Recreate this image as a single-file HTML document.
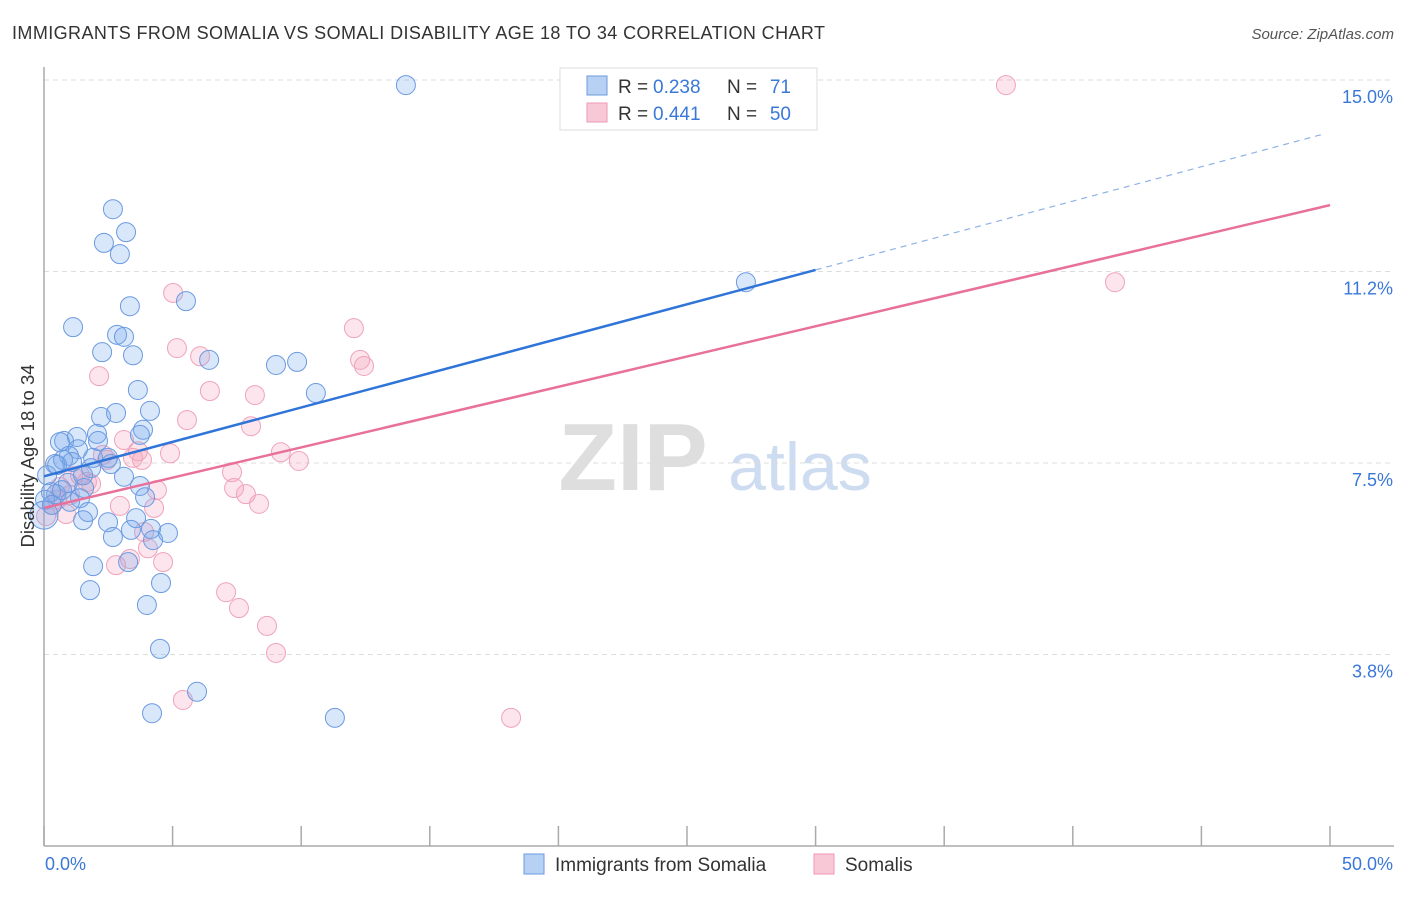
<!DOCTYPE html>
<html><head><meta charset="utf-8"><style>
body{margin:0;background:#fff;font-family:"Liberation Sans",sans-serif;}
svg text{font-family:"Liberation Sans",sans-serif;}
</style></head><body>
<svg id="chart" width="1406" height="892" xmlns="http://www.w3.org/2000/svg">
<text x="12" y="39" font-size="18" fill="#333" textLength="813" lengthAdjust="spacing">IMMIGRANTS FROM SOMALIA VS SOMALI DISABILITY AGE 18 TO 34 CORRELATION CHART</text>
<text x="1394" y="39" font-size="15" fill="#555" text-anchor="end" font-style="italic">Source: ZipAtlas.com</text>
<g>
<text x="633" y="490" font-size="96" fill="#dedede" text-anchor="middle" font-family="Liberation Serif" font-weight="bold">ZIP</text>
<text x="800" y="490" font-size="68" fill="#cddcf0" text-anchor="middle">atlas</text>
</g>
<g id="grid"></g>
<g id="axes"></g>
<g id="points"></g>
<g id="trends"></g>
<text transform="translate(34,456) rotate(-90)" font-size="18.5" fill="#333" text-anchor="middle">Disability Age 18 to 34</text>
<g>
<rect x="560" y="68" width="257" height="62" fill="#fff" stroke="#ddd"/>
<rect x="587" y="76" width="20" height="19" fill="#b7d1f5" stroke="#6b9ae0"/>
<rect x="587" y="103" width="20" height="19" fill="#f9c8d6" stroke="#ee9ab4"/>
<text x="618" y="93" font-size="19" fill="#333">R =</text>
<text x="653" y="93" font-size="19" fill="#3a78d8">0.238</text>
<text x="727" y="93" font-size="19" fill="#333">N =</text>
<text x="791" y="93" font-size="19" fill="#3a78d8" text-anchor="end">71</text>
<text x="618" y="120" font-size="19" fill="#333">R =</text>
<text x="653" y="120" font-size="19" fill="#3a78d8">0.441</text>
<text x="727" y="120" font-size="19" fill="#333">N =</text>
<text x="791" y="120" font-size="19" fill="#3a78d8" text-anchor="end">50</text>
</g>
<g>
<rect x="524" y="854" width="20" height="20" fill="#b7d1f5" stroke="#6b9ae0"/>
<text x="555" y="871" font-size="19" fill="#333">Immigrants from Somalia</text>
<rect x="814" y="854" width="20" height="20" fill="#f9c8d6" stroke="#ee9ab4"/>
<text x="845" y="871" font-size="19" fill="#333">Somalis</text>
</g>
</svg>
<script>
const yTicks=[3.8,7.5,11.2,15.0];
const yTickVals=[3.75,7.5,11.25,15];
const xTickLabels=["0.0%","50.0%"];
const blueX=[14.07,2.68,3.19,2.33,2.95,27.29,3.34,5.52,1.13,2.84,3.11,2.26,3.46,6.42,9.02,9.84,10.57,3.65,2.22,2.80,4.12,3.85,3.73,0.78,1.28,2.06,2.10,0.62,1.32,0.97,0.74,1.91,1.09,2.49,2.60,1.83,0.43,3.11,0.93,3.73,3.93,1.56,0.47,0.27,1.40,0.04,1.71,1.52,2.49,3.58,4.16,4.82,4.24,2.68,3.38,1.91,3.27,1.79,4.55,4.00,4.51,5.95,4.20,11.31,0.0,0.31,0.70,0.12,0.51,1.52,1.01];
const blueY=[14.9,12.47,12.02,11.81,11.59,11.04,10.57,10.67,10.16,10.01,9.97,9.67,9.61,9.52,9.42,9.48,8.87,8.93,8.40,8.48,8.52,8.15,8.05,7.93,8.01,8.07,7.93,7.91,7.77,7.64,7.56,7.60,7.52,7.60,7.48,7.40,7.48,7.23,7.11,7.05,6.83,7.01,6.89,6.93,6.81,6.78,6.54,6.38,6.34,6.42,6.21,6.13,5.99,6.05,6.19,5.48,5.56,5.01,5.15,4.72,3.86,3.02,2.60,2.51,6.48,6.68,6.97,7.26,7.46,7.26,6.74];
const pinkX=[37.40,41.64,5.02,12.05,5.17,6.07,12.29,12.44,2.14,6.45,8.20,5.56,8.05,3.11,3.65,4.90,3.46,2.45,3.81,9.91,9.21,7.31,4.39,7.39,7.85,1.13,1.67,1.83,0.62,2.95,4.28,8.36,0.86,0.31,3.89,4.04,4.63,2.80,3.34,7.08,7.58,8.67,9.02,5.40,18.16,0.08,1.40,1.01,2.29,0.51];
const pinkY=[14.90,11.04,10.83,10.14,9.75,9.59,9.52,9.40,9.20,8.91,8.83,8.34,8.22,7.95,7.73,7.69,7.60,7.56,7.56,7.54,7.71,7.32,6.97,7.01,6.89,7.24,7.13,7.09,7.03,6.66,6.62,6.70,6.50,6.68,6.15,5.83,5.56,5.50,5.62,4.97,4.66,4.31,3.78,2.86,2.51,6.46,7.26,6.87,7.66,6.78];
const blueTrend=[7.24,0.1347];
const pinkTrend=[6.62,0.1186];
const NS="http://www.w3.org/2000/svg";
const X0=44,X1=1330,Y0=846,YTOP=80;
const xs=v=>X0+v/50*(X1-X0);
const ys=v=>Y0-v/15*(Y0-YTOP);
function mk(tag,attrs,parent){const e=document.createElementNS(NS,tag);for(const k in attrs)e.setAttribute(k,attrs[k]);parent.appendChild(e);return e;}
const grid=document.getElementById('grid'),axes=document.getElementById('axes'),pts=document.getElementById('points'),tr=document.getElementById('trends');
yTickVals.forEach((v,i)=>{
  const l=mk('line',{x1:X0,x2:1394,y1:ys(v),y2:ys(v),stroke:'#ddd','stroke-dasharray':'5,4'},grid);
  
  
  const t=mk('text',{x:1393,y:ys(v)+23,'font-size':18,fill:'#3a78d8','text-anchor':'end'},grid);
  t.textContent=yTicks[i].toFixed(1)+'%';
  
  
});
const ya=mk('line',{x1:X0,x2:X0,y1:67,y2:Y0,stroke:'#aaa','stroke-width':1.5},axes);


const xa=mk('line',{x1:X0,x2:1394,y1:Y0,y2:Y0,stroke:'#aaa','stroke-width':1.5},axes);


for(let i=0;i<=10;i++){
  const tk=mk('line',{x1:xs(i*5),x2:xs(i*5),y1:826,y2:Y0,stroke:'#aaa','stroke-width':1.5},axes);
  
  
}
const xl0=mk('text',{x:45,y:870,'font-size':18,fill:'#3a78d8'},axes);xl0.textContent=xTickLabels[0];


const xl1=mk('text',{x:1393,y:870,'font-size':18,fill:'#3a78d8','text-anchor':'end'},axes);xl1.textContent=xTickLabels[1];


function drawPts(X,Y,fill,stroke,name){
  X.forEach((x,i)=>{
    const r=(x===0)?14:9.5;
    const c=mk('circle',{cx:xs(x),cy:ys(Y[i]),r:r,fill:fill,stroke:stroke,'stroke-width':1},pts);
    
    
  });
}
drawPts(pinkX,pinkY,'rgba(244,160,188,0.28)','#f0a3bb','somalis-point');
drawPts(blueX,blueY,'rgba(120,168,236,0.28)','#6b9ae0','somalia-point');
const bl=mk('line',{x1:xs(0),y1:ys(blueTrend[0]),x2:xs(30),y2:ys(blueTrend[0]+blueTrend[1]*30),stroke:'#2f74d8','stroke-width':2.5},tr);


const bd=mk('line',{x1:xs(30),y1:ys(blueTrend[0]+blueTrend[1]*30),x2:xs(49.8),y2:ys(blueTrend[0]+blueTrend[1]*49.8),stroke:'#8fb2e6','stroke-width':1.2,'stroke-dasharray':'6,5'},tr);


const pl=mk('line',{x1:xs(0),y1:ys(pinkTrend[0]),x2:xs(50),y2:ys(pinkTrend[0]+pinkTrend[1]*50),stroke:'#e8709a','stroke-width':2.5},tr);


</script>
</body></html>
